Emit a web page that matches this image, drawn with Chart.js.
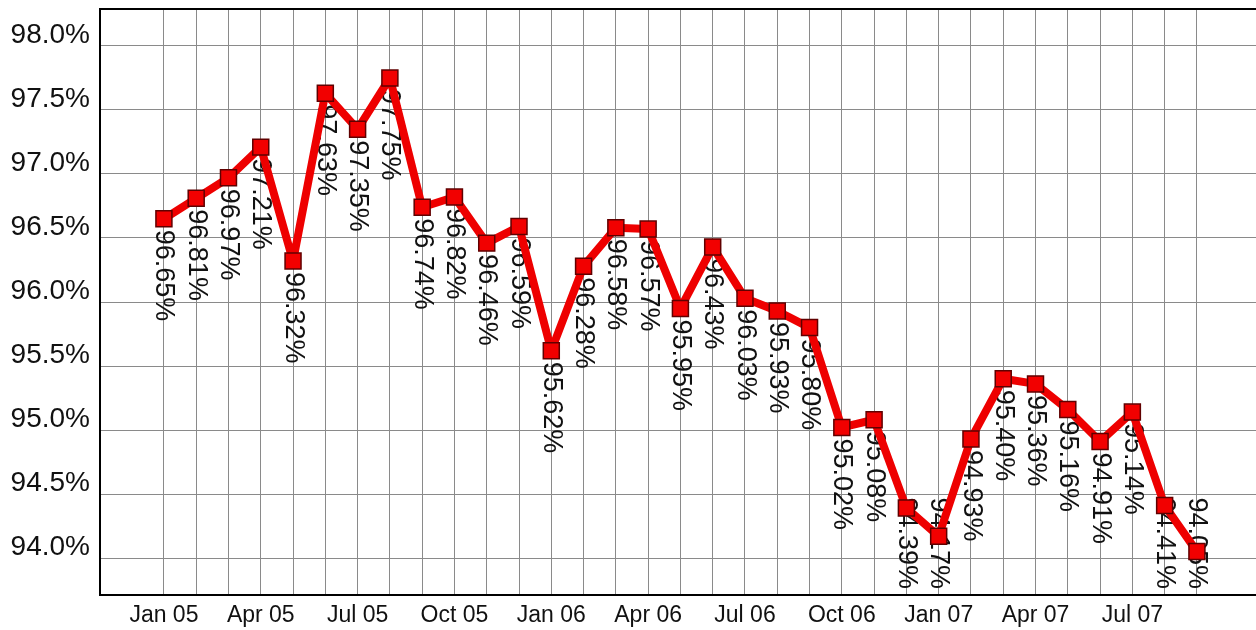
<!DOCTYPE html>
<html>
<head>
<meta charset="utf-8">
<script src="https://cdn.jsdelivr.net/npm/chart.js@4/dist/chart.umd.min.js"></script>
<style>
html,body{margin:0;padding:0;background:#fff;}
#wrap{width:1256px;height:630px;}
</style>
</head>
<body>
<div id="wrap"><canvas id="c" width="1256" height="630"></canvas></div>
<script>
const months = ["Jan 05","Feb 05","Mar 05","Apr 05","May 05","Jun 05","Jul 05","Aug 05","Sep 05","Oct 05","Nov 05","Dec 05",
  "Jan 06","Feb 06","Mar 06","Apr 06","May 06","Jun 06","Jul 06","Aug 06","Sep 06","Oct 06","Nov 06","Dec 06",
  "Jan 07","Feb 07","Mar 07","Apr 07","May 07","Jun 07","Jul 07","Aug 07","Sep 07"];
const values = [96.65,96.81,96.97,97.21,96.32,97.63,97.35,97.75,96.74,96.82,96.46,96.59,
  95.62,96.28,96.58,96.57,95.95,96.43,96.03,95.93,95.80,95.02,95.08,94.39,
  94.17,94.93,95.40,95.36,95.16,94.91,95.14,94.41,94.05];
const yTicks = [94.0,94.5,95.0,95.5,96.0,96.5,97.0,97.5,98.0];

const points = values.map((v,i)=>({x:i,y:v}));

const labelPlugin = {
  id:'labels',
  beforeDatasetsDraw(chart){
    const ctx = chart.ctx, a = chart.chartArea;
    const meta = chart.getDatasetMeta(0);
    ctx.save();
    ctx.font = '27px "Liberation Sans", Arial, sans-serif';
    ctx.fillStyle = '#111';
    ctx.textAlign = 'left';
    ctx.textBaseline = 'middle';
    meta.data.forEach((p,i)=>{
      const txt = values[i].toFixed(2)+'%';
      const w = ctx.measureText(txt).width;
      const start = Math.min(p.y + 11, a.bottom - 6 - w);
      ctx.save();
      ctx.translate(p.x, start);
      ctx.rotate(Math.PI/2);
      ctx.fillText(txt, 0, 0);
      ctx.restore();
    });
    ctx.restore();
  },
  afterDraw(chart){
    const ctx = chart.ctx, a = chart.chartArea;
    ctx.save();
    ctx.fillStyle = '#000';
    ctx.fillRect(a.left-1, a.top-1, 1256, 2);
    ctx.fillRect(a.left-1, a.top-1, 2, a.bottom-a.top+2);
    ctx.fillRect(a.left-1, a.bottom-1, 1256, 2);
    ctx.restore();
  }
};

new Chart(document.getElementById('c'), {
  type:'line',
  data:{datasets:[{
    data:points,
    borderColor:'#ee0000',
    borderWidth:8,
    borderJoinStyle:'round',
    pointStyle:'rect',
    pointRadius:11.3,
    pointBackgroundColor:'#f20000',
    pointBorderColor:'#600000',
    pointBorderWidth:1.5,
    tension:0,
    clip:false
  }]},
  options:{
    responsive:false,
    animation:false,
    events:[],
    layout:{autoPadding:false,padding:{top:9,right:0,left:0,bottom:0}},
    plugins:{legend:{display:false},tooltip:{enabled:false}},
    scales:{
      x:{
        type:'linear',
        min:-1.98, max:33.83,
        afterBuildTicks(s){ s.ticks = months.map((m,i)=>({value:i})); },
        afterFit(s){ s.height = 35; s.paddingLeft = 0; s.paddingRight = 0; },
        grid:{color:'#8a8a8a',lineWidth:1,drawTicks:false},
        border:{display:false},
        ticks:{
          autoSkip:false,maxRotation:0,minRotation:0,padding:7,
          color:'#111',
          font:{family:'"Liberation Sans", Arial, sans-serif',size:23},
          callback:(v)=>{ const i=Math.round(v); return (i%3===0)?months[i]:''; }
        }
      },
      y:{
        min:93.711, max:98.289,
        afterBuildTicks(s){ s.ticks = yTicks.map(v=>({value:v})); },
        afterFit(s){ s.width = 100; s.paddingTop = 0; s.paddingBottom = 0; },
        grid:{color:'#8a8a8a',lineWidth:1,drawTicks:false},
        border:{display:false},
        ticks:{
          padding:10,labelOffset:-11,
          color:'#111',
          font:{family:'"Liberation Sans", Arial, sans-serif',size:28},
          callback:(v)=>Number(v).toFixed(1)+'%'
        }
      }
    }
  },
  plugins:[labelPlugin]
});
</script>
</body>
</html>
